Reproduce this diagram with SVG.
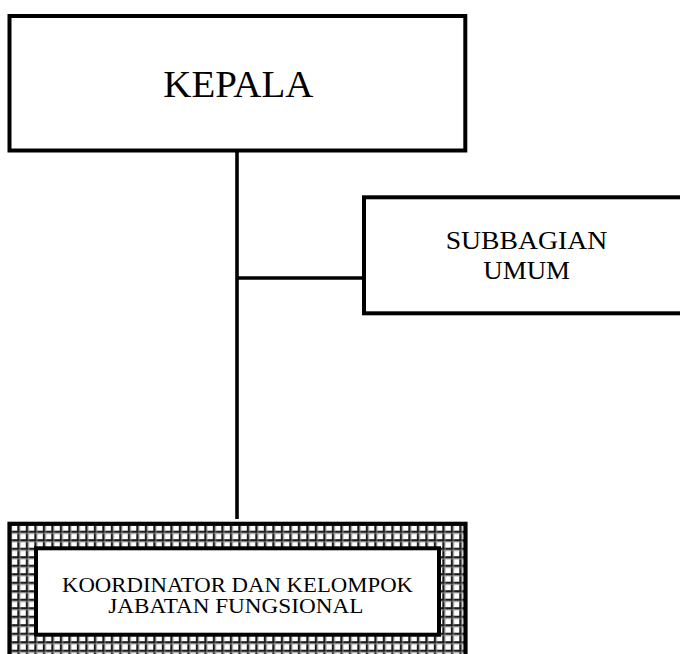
<svg xmlns="http://www.w3.org/2000/svg" width="680" height="654" viewBox="0 0 680 654">
  <style>
    .box { fill: #ffffff; stroke: #000000; stroke-width: 4; }
    .conn { stroke: #000000; stroke-width: 3.6; fill: none; stroke-linecap: butt; }
    .lbl { font-family: "Liberation Serif", "Times New Roman", serif; fill: #000000; text-anchor: middle; }
  </style>
  <defs>
    <pattern id="grid" patternUnits="userSpaceOnUse" x="17.3" y="530.7" width="8.5" height="8.5">
      <rect x="0" y="0" width="8.5" height="8.5" fill="#ffffff"/>
      <rect x="0" y="0" width="2.4" height="8.5" fill="#1c1c1c"/>
      <rect x="0" y="0" width="8.5" height="2.4" fill="#1c1c1c"/>
      <rect x="2.4" y="0" width="0.8" height="8.5" fill="#9a9a9a"/>
      <rect x="0" y="2.4" width="8.5" height="0.8" fill="#9a9a9a"/>
    </pattern>
  </defs>
  <rect width="680" height="654" fill="#ffffff"/>

  <g id="connectors">
    <line class="conn" x1="237" y1="147" x2="237" y2="519"/>
    <line class="conn" x1="237" y1="278" x2="364" y2="278"/>
  </g>

  <g id="kepala">
    <rect class="box" x="9.5" y="16" width="455.8" height="134.5"/>
    <text class="lbl" x="238.3" y="97.3" font-size="38" textLength="150" lengthAdjust="spacingAndGlyphs">KEPALA</text>
  </g>

  <g id="subbagian-umum">
    <rect class="box" x="364" y="197.3" width="340" height="116"/>
    <text class="lbl" x="526.5" y="249" font-size="26" textLength="161.6" lengthAdjust="spacingAndGlyphs">SUBBAGIAN</text>
    <text class="lbl" x="526.7" y="279" font-size="26" textLength="86.7" lengthAdjust="spacingAndGlyphs">UMUM</text>
  </g>

  <g id="koordinator">
    <rect x="9.5" y="523.8" width="456" height="180" fill="url(#grid)" stroke="#000000" stroke-width="4.2"/>
    <rect class="box" x="36" y="548.3" width="403" height="86.4"/>
    <text class="lbl" x="237.5" y="591.5" font-size="20" textLength="351" lengthAdjust="spacingAndGlyphs">KOORDINATOR DAN KELOMPOK</text>
    <text class="lbl" x="235.8" y="613.3" font-size="20" textLength="255" lengthAdjust="spacingAndGlyphs">JABATAN FUNGSIONAL</text>
  </g>
</svg>
